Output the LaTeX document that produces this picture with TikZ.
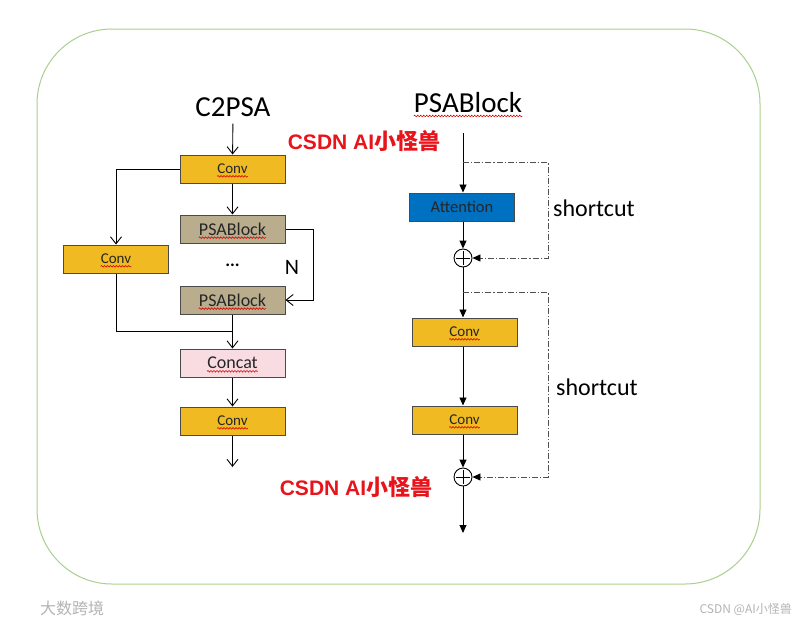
\documentclass[tikz,border=0pt]{standalone}
\usepackage{fontspec}
\setmainfont{Carlito}
\newfontfamily\cjk{Noto Sans CJK SC}
\newfontfamily\arialf{Liberation Sans}
\usetikzlibrary{arrows.meta,decorations.pathmorphing,calc}
\definecolor{frameg}{HTML}{A9D18E}
\definecolor{convc}{HTML}{F0BB22}
\definecolor{psabc}{HTML}{B9AD8E}
\definecolor{catc}{HTML}{F9DCE1}
\definecolor{attc}{HTML}{0070C0}
\definecolor{boxl}{HTML}{4A4A4A}
\definecolor{txtc}{HTML}{262626}
\definecolor{redc}{HTML}{E8141B}
\definecolor{wmc}{HTML}{B4B4B4}
\definecolor{ddc}{HTML}{505050}
\begin{document}
\begin{tikzpicture}[x=1pt,y=-1pt,
  box/.style={draw=boxl, line width=1pt, minimum width=105pt, minimum height=28pt, inner sep=0pt},
  convbox/.style={box, fill=convc},
  psabox/.style={box, fill=psabc},
  lbl/.style={inner sep=0pt, text=txtc},
  small/.style={lbl, font=\fontsize{15}{17}\selectfont},
  mid/.style={lbl, font=\fontsize{18}{21}\selectfont},
  big/.style={lbl, font=\fontsize{29}{34}\selectfont, text=black},
  sc/.style={lbl, font=\fontsize{24}{28}\selectfont, text=black},
  squig/.style={draw=red!85!black, line width=0.6pt, decorate, decoration={snake, segment length=3pt, amplitude=0.8pt}},
  la/.style={draw=black, line width=0.9pt, -{Straight Barb[length=7pt,width=11pt,line width=0.9pt]}},
  ra/.style={draw=black, line width=0.9pt, -{Triangle[length=8pt,width=7pt]}},
  dd/.style={draw=ddc, line width=0.8pt, dash pattern=on 6pt off 2pt on 1.2pt off 2pt},
  plus/.style={circle, draw=black, line width=0.9pt, minimum size=18pt, inner sep=0pt,
    path picture={\draw[line width=0.9pt] ([xshift=-7pt]path picture bounding box.center) -- ([xshift=7pt]path picture bounding box.center);
                  \draw[line width=0.9pt] ([yshift=-7pt]path picture bounding box.center) -- ([yshift=7pt]path picture bounding box.center);}},
  redt/.style={inner sep=0pt, text=redc},
  wm/.style={inner sep=0pt, text=wmc}
]
\useasboundingbox (0,0) rectangle (799,624);
\fill[white] (0,0) rectangle (799,624);
% frame
\draw[frameg, line width=1pt, rounded corners=75pt] (37,29) rectangle (760,584);

% ===== left: C2PSA =====
\node[big] (c2) at (233,107) {C2PSA};
\node[convbox] (c1) at (232.5,169) {};
\node[psabox]  (p1) at (232.5,229) {};
\node[psabox]  (p2) at (232.5,300) {};
\node[convbox] (cl) at (116,259) {};
\node[box, fill=catc] (cc) at (232.5,363) {};
\node[convbox] (c3) at (232.5,421) {};

\node[small] (c1t) at (c1) {Conv};
\node[mid]   (p1t) at (p1) {PSABlock};
\node[mid]   (p2t) at (p2) {PSABlock};
\node[small] (clt) at (cl) {Conv};
\node[mid]   (cct) at (cc) {Concat};
\node[small] (c3t) at (c3) {Conv};
\foreach \t in {c1t,p1t,p2t,clt,cct,c3t}
  \draw[squig] ($(\t.base west)+(0,2.5)$) -- ($(\t.base east)+(0,2.5)$);

\node[lbl, font=\bfseries\fontsize{18}{20}\selectfont, text=black] (dots) at (232.5,265) {...};
\node[lbl, font=\fontsize{22}{26}\selectfont, text=black] (nn) at (292,267) {N};

\draw[la, shorten <=7pt] (c2) -- (c1);
\draw[la] (c1.west) -| (cl.north);
\draw[la] (c1) -- (p1);
\draw[la] (p1.east) -- ++(28,0) |- (p2.east);
\coordinate (j) at (232.5,331);
\draw[line width=0.9pt] (cl.south) |- (j);
\draw[la] (p2) -- (cc);
\draw[la] (cc) -- (c3);
\coordinate (out1) at (232.5,467);
\draw[la] (c3) -- (out1);

% ===== right: PSABlock =====
\node[big] (pt) at (468,103) {PSABlock};
\draw[squig] ($(pt.base west)+(0,3)$) -- ($(pt.base east)+(0,3)$);
\node[box, fill=attc] (att) at (462,207) {};
\node[mid, text=txtc, font=\fontsize{16.5}{18}\selectfont] (attt) at (att) {Attention};
\node[plus] (pl1) at (463,258) {};
\node[convbox] (c4) at (464.5,332) {};
\node[convbox] (c5) at (464.5,420) {};
\node[small] (c4t) at (c4) {Conv};
\node[small] (c5t) at (c5) {Conv};
\foreach \t in {c4t,c5t}
  \draw[squig] ($(\t.base west)+(0,2.5)$) -- ($(\t.base east)+(0,2.5)$);
\node[plus] (pl2) at (463,477) {};

\node[sc] (sc1) at (594,208) {shortcut};
\node[sc] (sc2) at (597,387) {shortcut};

\coordinate (in2) at (463,133);
\draw[ra] (in2) -- (att.north -| in2);
\draw[ra] (att.south -| in2) -- (pl1);
\coordinate (s1) at (463,162);
\draw[dd, -{Triangle[length=8pt,width=7pt,color=black]}] (s1) -- ++(85,0) |- (pl1.east);
\draw[ra] (pl1) -- (c4.north -| pl1);
\coordinate (s2) at (463,292);
\draw[dd, -{Triangle[length=8pt,width=7pt,color=black]}] (s2) -- ++(85,0) |- (pl2.east);
\draw[ra] (c4.south -| pl1) -- (c5.north -| pl1);
\draw[ra] (c5.south -| pl2) -- (pl2);
\coordinate (out2) at (463,533);
\draw[ra] (pl2) -- (out2);

% ===== red labels =====
\node[redt] (r1) at (364,141) {{\arialf\bfseries\fontsize{21}{24}\selectfont CSDN AI}{\cjk\bfseries\fontsize{22}{24}\selectfont 小怪兽}};
\node[redt] (r2) at (356,487) {{\arialf\bfseries\fontsize{21}{24}\selectfont CSDN AI}{\cjk\bfseries\fontsize{22}{24}\selectfont 小怪兽}};

% ===== watermarks =====
\node[wm, font=\cjk\fontsize{16}{18}\selectfont] (w1) at (72,608) {大数跨境};
\node[wm, font=\cjk\fontsize{12}{14}\selectfont, anchor=east] (w2) at (792,609) {CSDN @AI小怪兽};
\end{tikzpicture}
\end{document}
